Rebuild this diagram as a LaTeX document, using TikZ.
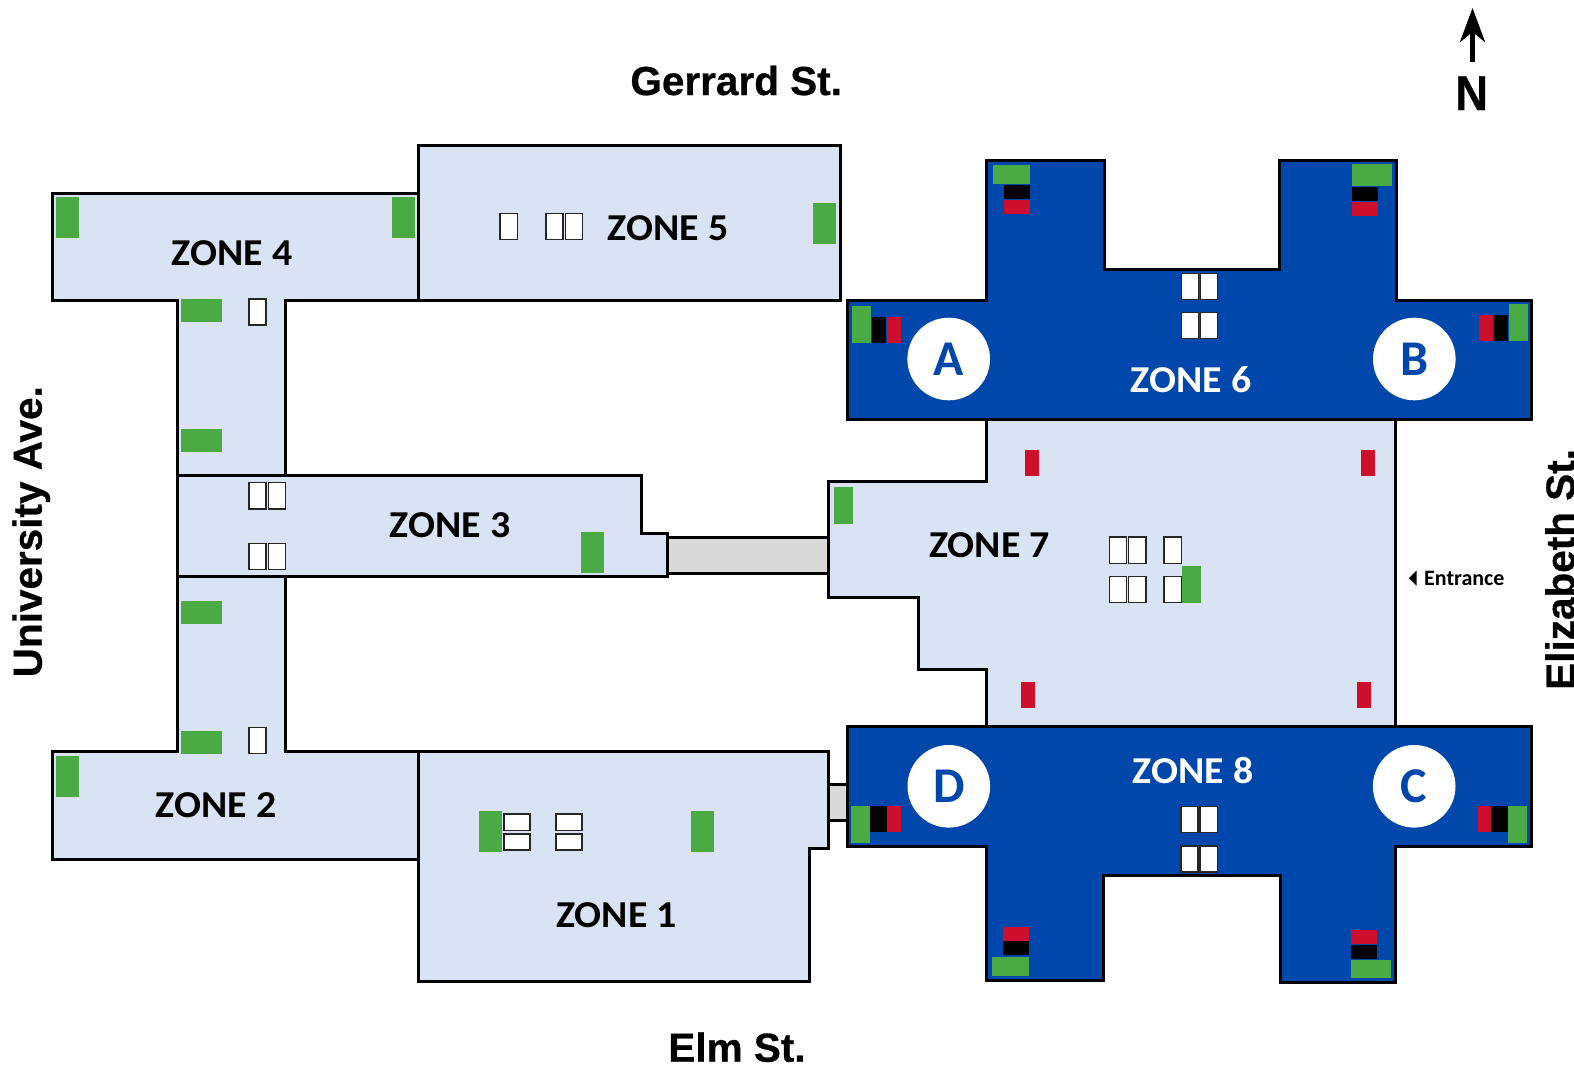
\documentclass[tikz,border=0pt]{standalone}
\usepackage{fontspec}
\setmainfont[BoldFeatures={FakeBold=0.6}]{Liberation Sans}
\newfontfamily\zonefont{Carlito}
\usepackage{xcolor}
\usepackage{tikz}
\usetikzlibrary{arrows.meta}
\definecolor{zonelight}{HTML}{DAE3F3}
\definecolor{zonedark}{HTML}{0047AB}
\definecolor{kitgreen}{HTML}{4AAB45}
\definecolor{kitred}{HTML}{CE0E2D}
\definecolor{linkgray}{HTML}{D9D9D9}

\begin{document}
\begin{tikzpicture}[x=1pt, y=-1pt,
	light/.style={draw=black, fill=zonelight, line width=3pt, line join=miter},
	dark/.style={draw=black, fill=zonedark, line width=3pt, line join=miter},
	bridge/.style={draw=black, fill=linkgray, line width=3pt},
	door/.style={draw=black!85, fill=white, line width=1.4pt},
	gbox/.style={fill=kitgreen},
	rbox/.style={fill=kitred},
	kbox/.style={fill=black},
	zonetext/.style={font=\zonefont\bfseries\fontsize{38}{44}\selectfont, xscale=1.05, anchor=base, inner sep=0pt},
	street/.style={font=\bfseries\fontsize{40.5}{48}\selectfont, inner sep=0pt},
	marker/.style={circle, fill=white, minimum size=82.6pt, inner sep=0pt, text=zonedark, font=\zonefont\bfseries\fontsize{50}{56}\selectfont}]
	\useasboundingbox (0,0) rectangle (1574,1069);
	% links between the wings
	\draw[bridge] (667,537.4) rectangle (828,573);
	\draw[bridge] (828.7,784.3) rectangle (847,820.7);
	% west side
	\draw[light] (52,193) -- (418.4,193) -- (418.4,300.3) -- (285,300.3) -- (285,475.2) -- (177.8,475.2) -- (177.8,300.3) -- (52,300.3) -- cycle;
	\draw[light] (177.8,576.6) -- (285,576.6) -- (285,751.8) -- (418.4,751.8) -- (418.4,859) -- (52,859) -- (52,751.8) -- (177.8,751.8) -- cycle;
	\draw[light] (418.4,145.3) rectangle (840.5,300.3);
	\draw[light] (177.8,475.2) -- (641,475.2) -- (641,533.4) -- (667.2,533.4) -- (667.2,576.6) -- (177.8,576.6) -- cycle;
	\draw[light] (418.4,751.8) -- (828.7,751.8) -- (828.7,848.8) -- (809,848.8) -- (809,981.6) -- (418.4,981.6) -- cycle;
	% east side
	\draw[light] (986.6,419) -- (1395.8,419) -- (1395.8,726) -- (986.6,726) -- (986.6,669) -- (918.5,669) -- (918.5,597.3) -- (828,597.3) -- (828,481) -- (986.6,481) -- cycle;
	\draw[dark] (847,300.5) -- (986,300.5) -- (986,160) -- (1104,160) -- (1104,269) -- (1279,269) -- (1279,160) -- (1396,160) -- (1396,300.5) -- (1531,300.5) -- (1531,419) -- (847,419) -- cycle;
	\draw[dark] (847,726) -- (1531,726) -- (1531,846.7) -- (1395.8,846.7) -- (1395.8,982.3) -- (1280,982.3) -- (1280,875.3) -- (1103.5,875.3) -- (1103.5,980.3) -- (986.6,980.3) -- (986.6,846.7) -- (847,846.7) -- cycle;
	% zone 4 and corridor
	\fill[gbox] (55.8,197) rectangle (79,237.7);
	\fill[gbox] (391.9,197) rectangle (415.2,237.7);
	\fill[gbox] (181,299) rectangle (222.2,322);
	\fill[gbox] (181,429) rectangle (222.2,452);
	\draw[door] (248.8,299) rectangle (266,325);
	% zone 5
	\draw[door] (500,213.7) rectangle (517.6,239.7);
	\draw[door] (545.8,213.7) rectangle (563,239.7);
	\draw[door] (565.3,213.7) rectangle (582.7,239.7);
	\fill[gbox] (813,203) rectangle (835.8,244);
	% zone 3
	\draw[door] (248.8,482.7) rectangle (266,509);
	\draw[door] (268.3,482.7) rectangle (285.6,509);
	\draw[door] (248.8,543.5) rectangle (266,569.2);
	\draw[door] (268.3,543.5) rectangle (285.6,569.2);
	\fill[gbox] (581,532) rectangle (603.8,572.6);
	% zone 2 and corridor
	\fill[gbox] (181,601) rectangle (222.2,624);
	\fill[gbox] (181,731) rectangle (222.2,754);
	\draw[door] (248.8,727.4) rectangle (266,753.4);
	\fill[gbox] (55.8,756) rectangle (79,797);
	% zone 1
	\fill[gbox] (479,811) rectangle (502,852);
	\fill[gbox] (691,811) rectangle (713.8,852);
	\draw[door] (504,814) rectangle (530,830.2);
	\draw[door] (504,834) rectangle (530,850);
	\draw[door] (556,814) rectangle (582,830.2);
	\draw[door] (556,834) rectangle (582,850);
	% zone 7
	\fill[gbox] (834,487) rectangle (852.8,523.7);
	\fill[rbox] (1025,450) rectangle (1039,476);
	\fill[rbox] (1360.7,450) rectangle (1375,476);
	\fill[rbox] (1021,682) rectangle (1035,708);
	\fill[rbox] (1356.8,682) rectangle (1371,708);
	\draw[door] (1109.5,537) rectangle (1126.7,563.3);
	\draw[door] (1128.7,537) rectangle (1146,563.3);
	\draw[door] (1163.8,537) rectangle (1181.5,563.3);
	\draw[door] (1109.5,576.7) rectangle (1126.7,602.7);
	\draw[door] (1128.7,576.7) rectangle (1146,602.7);
	\draw[door] (1163.8,576.7) rectangle (1181.5,602.7);
	\fill[gbox] (1182,566) rectangle (1200.8,602.7);
	% zone 6
	\draw[door] (1181.3,273.7) rectangle (1198.3,299.3);
	\draw[door] (1200.3,273.7) rectangle (1217.3,299.3);
	\draw[door] (1181.3,312.7) rectangle (1198.3,338.7);
	\draw[door] (1200.3,312.7) rectangle (1217.3,338.7);
	\fill[gbox] (993,165) rectangle (1030,184);
	\fill[kbox] (1004,185) rectangle (1030,199);
	\fill[rbox] (1004,200) rectangle (1030,213.7);
	\fill[gbox] (1352,164) rectangle (1392,186);
	\fill[kbox] (1352,187) rectangle (1378,201);
	\fill[rbox] (1352,201.7) rectangle (1378,216);
	\fill[gbox] (852,306) rectangle (871,343);
	\fill[kbox] (872,317) rectangle (886,343);
	\fill[rbox] (887,317) rectangle (901,343);
	\fill[rbox] (1479,315) rectangle (1493.3,341);
	\fill[kbox] (1494,315) rectangle (1508,341);
	\fill[gbox] (1509,304) rectangle (1528,341);
	% zone 8
	\draw[door] (1181,806.3) rectangle (1197.8,832.3);
	\draw[door] (1199.8,806.3) rectangle (1217.6,832.3);
	\draw[door] (1181,846) rectangle (1197.8,872);
	\draw[door] (1199.8,846) rectangle (1217.6,872);
	\fill[gbox] (850.8,806) rectangle (870,843);
	\fill[kbox] (870,806) rectangle (887,831.7);
	\fill[rbox] (887,806) rectangle (901,831.7);
	\fill[rbox] (1478,806) rectangle (1491,831.7);
	\fill[kbox] (1491,806) rectangle (1507.8,831.7);
	\fill[gbox] (1507.8,806) rectangle (1527,843);
	\fill[rbox] (1002.9,927) rectangle (1029,941);
	\fill[kbox] (1002.9,941) rectangle (1029,955);
	\fill[gbox] (992,957) rectangle (1029,976);
	\fill[rbox] (1350.8,930) rectangle (1377,944);
	\fill[kbox] (1350.8,945) rectangle (1377,959);
	\fill[gbox] (1350.8,960) rectangle (1390.8,978);
	% entry points
	\node[marker] (A) at (948.7,359) {A};
	\node[marker] (B) at (1414.3,359) {B};
	\node[marker] (C) at (1414.2,786.3) {C};
	\node[marker] (D) at (948.8,786.3) {D};
	% labels
	\node[zonetext] (Z1) at (616.5,927) {ZONE 1};
	\node[zonetext] (Z2) at (216,817) {ZONE 2};
	\node[zonetext] (Z3) at (450,537) {ZONE 3};
	\node[zonetext] (Z4) at (232,265) {ZONE 4};
	\node[zonetext] (Z5) at (668,240) {ZONE 5};
	\node[zonetext, text=white] (Z6) at (1191,392.5) {ZONE 6};
	\node[zonetext] (Z7) at (989.5,557.5) {ZONE 7};
	\node[zonetext, text=white] (Z8) at (1193,783.5) {ZONE 8};
	\node[street, anchor=base] (gerrard) at (736.2,95) {Gerrard St.};
	\node[street, anchor=base] (elm) at (737,1061.7) {Elm St.};
	\node[street, anchor=base west, rotate=90] (university) at (41.7,677.5) {University Ave.};
	\node[street, anchor=base west, rotate=90] (elizabeth) at (1574.5,690) {Elizabeth St.};
	% entrance
	\fill (1409,578.2) -- (1416.5,570.7) -- (1416.5,585.7) -- cycle;
	\node[font=\zonefont\bfseries\fontsize{22}{26}\selectfont, anchor=base west, inner sep=0pt] (entrance) at (1424,585) {Entrance};
	% north arrow
	\coordinate (nfoot) at (1472.5,61.7);
	\coordinate (ntip) at (1472.5,8);
	\draw[line width=5pt, -{Stealth[length=34pt, width=25pt, inset=10pt]}] (nfoot) -- (ntip);
	\node[font=\bfseries\fontsize{49}{56}\selectfont, xscale=0.92, anchor=base, inner sep=0pt] (north) at (1471.7,110) {N};
\end{tikzpicture}
\end{document}
